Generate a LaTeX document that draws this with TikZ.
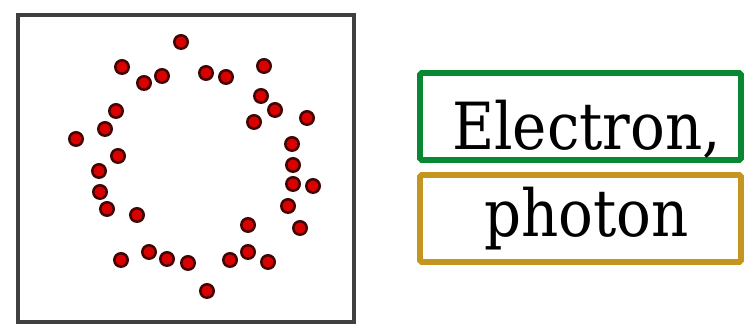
\documentclass[tikz,border=0pt]{standalone}
\usepackage{fontspec}
\usepackage{graphicx}
\setmainfont{DejaVu Serif}
\usetikzlibrary{positioning}
\definecolor{framegray}{rgb}{0.25, 0.25, 0.25}
\definecolor{dotred}{rgb}{0.85, 0.0, 0.0}
\definecolor{dotrim}{rgb}{0.25, 0.02, 0.02}
\definecolor{leafgreen}{rgb}{0.04, 0.53, 0.2}
\definecolor{ochre}{rgb}{0.77, 0.59, 0.12}
\newcommand{\narrow}[1]{\hspace*{0.24cm}\scalebox{0.89}[1]{#1}}

\begin{document}
\begin{tikzpicture}[
    x=0.02cm, y=-0.02cm,
    particle/.style={
        circle,
        fill=dotred,
        draw=dotrim,
        line width=1.4pt,
        inner sep=0pt,
        minimum size=0.27cm
    },
    tag/.style={
        draw,
        line width=3.3pt,
        rounded corners=1pt,
        minimum width=6.42cm,
        minimum height=1.74cm,
        inner sep=0pt,
        font=\fontsize{37}{40}\selectfont
    }
]
\useasboundingbox (0,0) rectangle (744,333);

% =====================
% BOX WITH PARTICLES
% =====================
\node[draw=framegray, line width=1.9pt, minimum width=6.72cm, minimum height=6.14cm,
      inner sep=0pt] (frame) at (186,168.5) {};

\foreach \px/\py [count=\i] in {
    181/42, 122/67, 144/83, 162/76, 206/73, 226/77, 264/66,
    261/96, 275/110, 254/122, 307/118,
    116/111, 105/129, 76/139, 118/156, 99/171, 100/192, 107/209, 137/215,
    292/144, 293/165, 293/184, 313/186, 288/206, 300/228,
    248/225, 248/252, 230/260, 268/262,
    121/260, 149/252, 167/259, 188/263, 207/291}
    \node[particle] (p\i) at (\px,\py) {};

% =====================
% LABELS
% =====================
\node[tag, draw=leafgreen, text height=1.34cm, text depth=0cm] (electron) at (580.5,116.5) {\narrow{Electron,}};
\node[tag, draw=ochre, text height=0.94cm, text depth=0.2cm] (photon) at (580.5,218.5) {\narrow{photon}};

\end{tikzpicture}
\end{document}
